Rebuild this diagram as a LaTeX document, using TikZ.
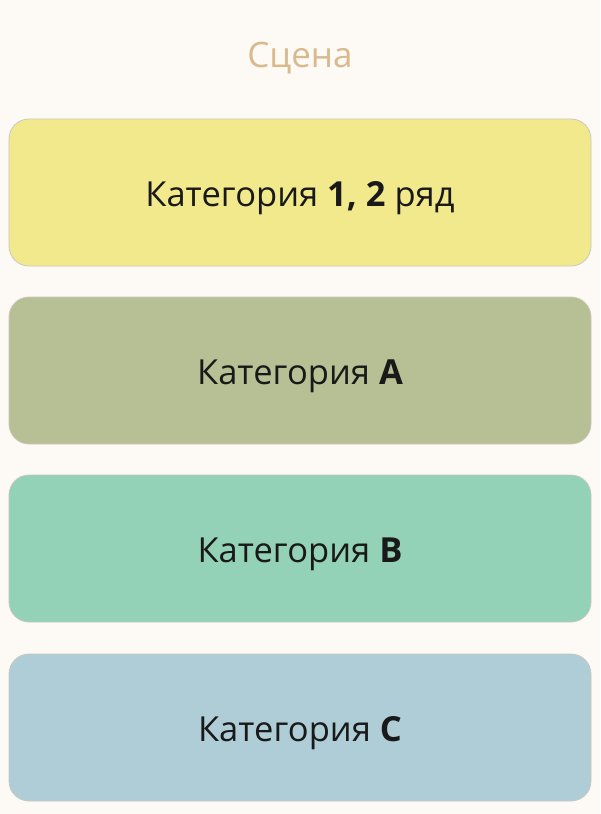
\documentclass[tikz,border=0pt]{standalone}
\usepackage{xcolor}
\usepackage{tikz}
\usepackage{fontspec}
\setmainfont{Open Sans}
\usetikzlibrary{positioning}
\definecolor{sceneBg}{RGB}{253, 249, 245}
\definecolor{sceneTitle}{RGB}{216, 186, 140}
\definecolor{sceneBorder}{RGB}{200, 200, 190}
\definecolor{catOne}{RGB}{241, 233, 140}
\definecolor{catA}{RGB}{183, 191, 148}
\definecolor{catB}{RGB}{147, 210, 182}
\definecolor{catC}{RGB}{174, 205, 214}

\begin{document}
\begin{tikzpicture}[
    x=1pt, y=-1pt,
    category/.style={
        rectangle,
        rounded corners=20pt,
        draw=sceneBorder,
        line width=0.8pt,
        minimum width=582pt,
        minimum height=147pt
    },
    label/.style={
        font=\fontsize{34.5}{40}\selectfont,
        text=black!90
    },
    title/.style={
        font=\fontsize{35}{40}\selectfont,
        text=sceneTitle
    }
]
    % Background
    \fill[sceneBg] (0,0) rectangle (600,814);
    \useasboundingbox (0,0) rectangle (600,814);

    % Title
    \node[title] (scene) at (300,58) {Сцена};

    % Categories
    \node[category, fill=catOne] (rowOne) at (300,192.5) {};
    \node[category, fill=catA] (catA) at (300,370.5) {};
    \node[category, fill=catB] (catB) at (300,548.5) {};
    \node[category, fill=catC] (catC) at (300,727.5) {};

    % Labels
    \node[label] (rowOneText) at ([yshift=-6pt]rowOne.center) {Категория \textbf{1, 2} ряд};
    \node[label] (catAText) at ([yshift=-6pt]catA.center) {Категория \textbf{A}};
    \node[label] (catBText) at ([yshift=-6pt]catB.center) {Категория \textbf{B}};
    \node[label] (catCText) at ([yshift=-6pt]catC.center) {Категория \textbf{C}};

\end{tikzpicture}
\end{document}
